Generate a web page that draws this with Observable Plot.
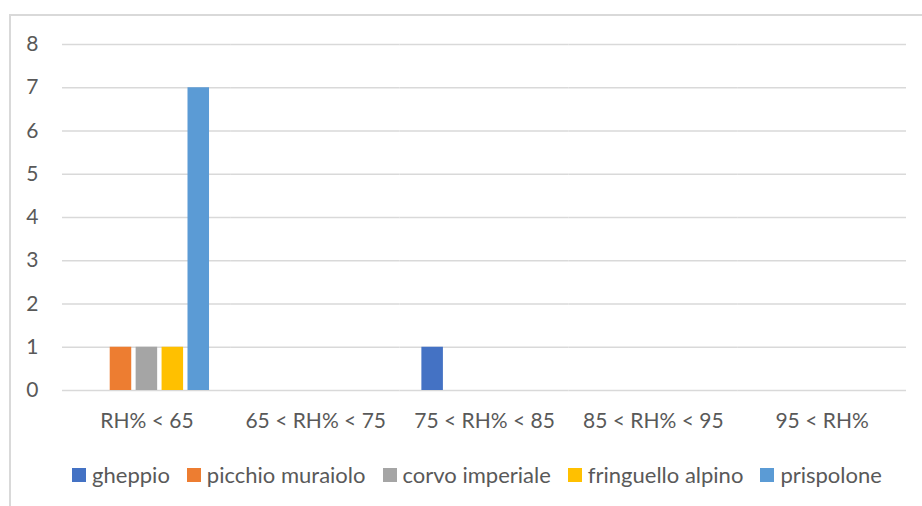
<!DOCTYPE html>
<html>
<head>
<meta charset="utf-8">
<script src="https://cdn.jsdelivr.net/npm/d3@7"></script>
<script src="https://cdn.jsdelivr.net/npm/@observablehq/plot@0.6"></script>
<style>
  html, body { margin: 0; padding: 0; background: #fff; overflow: hidden; width: 922px; height: 506px; }
  #frame { position: absolute; left: 9px; top: 14px; width: 1000px; height: 1000px; border: 2px solid #d9d9d9; box-sizing: border-box; }
  #chart { position: absolute; left: 0; top: 0; }
  #legend { position: absolute; left: 0; top: 461px; width: 954px; display: flex; justify-content: center; align-items: center;
            font-family: Lato, "Open Sans", sans-serif; font-size: 22px; color: #595959; }
  .item { display: flex; align-items: center; margin: 0 8.5px; }
  .sw { width: 14px; height: 14px; margin-right: 6px; }
</style>
</head>
<body>
<div id="frame"></div>
<div id="chart"></div>
<div id="legend"></div>
<script>
const categories = ["RH% < 65", "65 < RH% < 75", "75 < RH% < 85", "85 < RH% < 95", "95 < RH%"];
const series = ["gheppio", "picchio muraiolo", "corvo imperiale", "fringuello alpino", "prispolone"];
const gheppio = [0, 0, 1, 0, 0];
const picchioMuraiolo = [1, 0, 0, 0, 0];
const corvoImperiale = [1, 0, 0, 0, 0];
const fringuelloAlpino = [1, 0, 0, 0, 0];
const prispolone = [7, 0, 0, 0, 0];
const yTicks = [0, 1, 2, 3, 4, 5, 6, 7, 8];
const palette = ["#4472C4", "#ED7D31", "#A5A5A5", "#FFC000", "#5B9BD5"];

const valuesBySeries = [gheppio, picchioMuraiolo, corvoImperiale, fringuelloAlpino, prispolone];
const data = [];
categories.forEach((c, i) => {
  series.forEach((s, j) => {
    data.push({category: c, series: s, value: valuesBySeries[j][i]});
  });
});

const chart = Plot.plot({
  width: 922,
  height: 440,
  marginLeft: 62,
  marginRight: 16,
  marginTop: 44,
  marginBottom: 50,
  style: {fontFamily: "Lato, 'Open Sans', sans-serif", fontSize: "21px", color: "#595959", background: "transparent"},
  fx: {domain: categories, padding: 0, round: false, label: null, axis: "bottom", tickSize: 0, tickPadding: 23},
  x: {domain: series, axis: null, round: false, paddingInner: 0.17, paddingOuter: 0.84},
  y: {domain: [0, 8], ticks: yTicks, label: null, tickSize: 0, tickPadding: 24},
  color: {domain: series, range: palette},
  marks: [
    Plot.ruleY(yTicks, {stroke: "#d9d9d9", strokeWidth: 1.5}),
    Plot.barY(data, {fx: "category", x: "series", y: "value", fill: "series"})
  ]
});
document.getElementById("chart").appendChild(chart);

const legend = document.getElementById("legend");
series.forEach((s, j) => {
  const item = document.createElement("div");
  item.className = "item";
  const sw = document.createElement("div");
  sw.className = "sw";
  sw.style.background = palette[j];
  const t = document.createElement("span");
  t.textContent = s;
  item.appendChild(sw);
  item.appendChild(t);
  legend.appendChild(item);
});
</script>
</body>
</html>
